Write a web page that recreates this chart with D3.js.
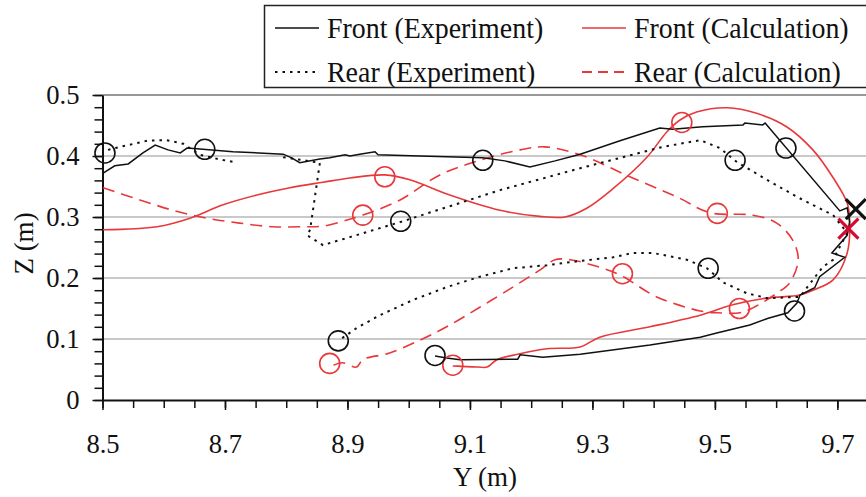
<!DOCTYPE html>
<html>
<head>
<meta charset="utf-8">
<script src="https://cdn.jsdelivr.net/npm/d3@7"></script>
<style>
  body { margin: 0; background: #fff; }
  text { font-family: "Liberation Serif", "Times New Roman", serif; fill: #111; }
</style>
</head>
<body>
<svg id="chart"></svg>
<script>
// chart.js

// Trajectories: [Y (m), Z (m)]
const frontExp = [
  [8.501, 0.372], [8.520, 0.384], [8.542, 0.387], [8.566, 0.405], [8.586, 0.418],
  [8.607, 0.410], [8.627, 0.405], [8.638, 0.413], [8.664, 0.411], [8.713, 0.407],
  [8.795, 0.403], [8.809, 0.397], [8.822, 0.389], [8.855, 0.395], [8.871, 0.397],
  [8.896, 0.402], [8.904, 0.400], [8.920, 0.403], [8.945, 0.407], [8.950, 0.402],
  [9.018, 0.400], [9.121, 0.397], [9.157, 0.392], [9.198, 0.382], [9.239, 0.392],
  [9.280, 0.403], [9.345, 0.425], [9.410, 0.446], [9.431, 0.444], [9.480, 0.448],
  [9.546, 0.451], [9.549, 0.454], [9.578, 0.451], [9.582, 0.454], [9.704, 0.310],
  [9.716, 0.315], [9.720, 0.292], [9.716, 0.270], [9.691, 0.241], [9.712, 0.234],
  [9.671, 0.202], [9.663, 0.184], [9.639, 0.172], [9.634, 0.159], [9.619, 0.143],
  [9.587, 0.134], [9.557, 0.123], [9.503, 0.110], [9.476, 0.103], [9.394, 0.090],
  [9.280, 0.075], [9.219, 0.070], [9.182, 0.074], [9.178, 0.067], [9.084, 0.066],
  [9.062, 0.069], [9.043, 0.072]
];

const rearExp = [
  [8.509, 0.410], [8.529, 0.415], [8.573, 0.425], [8.605, 0.426], [8.632, 0.420],
  [8.659, 0.402], [8.689, 0.395], [8.720, 0.389], null,
  [8.795, 0.398], [8.855, 0.389], [8.839, 0.279], [8.834, 0.270], [8.860, 0.254],
  [8.904, 0.267], [8.987, 0.292], [9.149, 0.344], [9.280, 0.380], [9.415, 0.415],
  [9.476, 0.426], [9.508, 0.413], [9.536, 0.390], [9.585, 0.361], [9.634, 0.333],
  [9.693, 0.303], [9.716, 0.274], [9.693, 0.230], [9.676, 0.218], [9.660, 0.197],
  [9.639, 0.169], [9.585, 0.167], [9.552, 0.175], [9.513, 0.193], [9.487, 0.216],
  [9.454, 0.230], [9.399, 0.241], [9.366, 0.241], [9.334, 0.234], [9.280, 0.228],
  [9.226, 0.221], [9.170, 0.216], [9.116, 0.202], [9.062, 0.185], [9.007, 0.164],
  [8.953, 0.139], [8.915, 0.118], [8.885, 0.097]
];

const frontCalc = [
  [8.501, 0.279], [8.589, 0.284], [8.643, 0.298], [8.697, 0.320], [8.752, 0.336],
  [8.806, 0.348], [8.860, 0.357], [8.904, 0.364], [8.961, 0.369], [9.002, 0.361],
  [9.067, 0.336], [9.149, 0.311], [9.214, 0.301], [9.255, 0.300], [9.290, 0.314],
  [9.333, 0.346], [9.389, 0.398], [9.421, 0.439], [9.443, 0.459], [9.470, 0.472],
  [9.520, 0.479], [9.568, 0.470], [9.617, 0.448], [9.660, 0.410], [9.692, 0.366],
  [9.716, 0.323], [9.720, 0.295], [9.716, 0.241], [9.693, 0.197], [9.660, 0.180],
  [9.639, 0.172], [9.585, 0.167], [9.529, 0.156], [9.476, 0.139], [9.394, 0.120],
  [9.312, 0.103], [9.280, 0.087], [9.226, 0.084], [9.178, 0.075], [9.144, 0.066],
  [9.128, 0.054], [9.113, 0.054], [9.072, 0.056]
];

const rearCalc = [
  [8.501, 0.348], [8.561, 0.328], [8.615, 0.311], [8.671, 0.298], [8.724, 0.290],
  [8.778, 0.284], [8.827, 0.284], [8.860, 0.285], [8.899, 0.295], [8.925, 0.303],
  [8.986, 0.328], [9.051, 0.369], [9.116, 0.393], [9.182, 0.410], [9.222, 0.415],
  [9.280, 0.402], [9.361, 0.366], [9.438, 0.333], [9.492, 0.307], [9.562, 0.303],
  [9.601, 0.290], [9.627, 0.262], [9.636, 0.230], [9.622, 0.192], [9.601, 0.175],
  [9.562, 0.151], [9.541, 0.143], [9.503, 0.143], [9.476, 0.146], [9.405, 0.169],
  [9.345, 0.205], [9.304, 0.220], [9.263, 0.230], [9.239, 0.230], [9.214, 0.213],
  [9.170, 0.185], [9.116, 0.152], [9.062, 0.120], [9.018, 0.098], [8.969, 0.077],
  [8.925, 0.066], [8.915, 0.054], [8.892, 0.061], [8.875, 0.056]
];

// Circle markers (equal time instants) and start crosses
const expMarkers = [
  [8.504, 0.405], [8.667, 0.411], [9.121, 0.393], [9.533, 0.393], [9.616, 0.413],
  [8.987, 0.293], [9.489, 0.216], [8.885, 0.097], [9.043, 0.073], [9.630, 0.146]
];
const calcMarkers = [
  [9.446, 0.455], [8.961, 0.366], [8.925, 0.303], [9.504, 0.306], [9.349, 0.207],
  [9.540, 0.150], [8.871, 0.060], [9.072, 0.057]
];
const expCross = [9.730, 0.313];
const calcCross = [9.718, 0.281];

const xTicks = [8.5, 8.7, 8.9, 9.1, 9.3, 9.5, 9.7];
const zTicks = [0, 0.1, 0.2, 0.3, 0.4, 0.5];
const gridValues = [0.1, 0.2, 0.3, 0.4];
const legendLabels = ["Front (Experiment)", "Front (Calculation)", "Rear (Experiment)", "Rear (Calculation)"];

const width = 866, height = 497;
const black = "#111", red = "#e8383b", crossRed = "#d40a2f";

const svg = d3.select("#chart").attr("width", width).attr("height", height);

const x = d3.scaleLinear().domain([8.5, 9.75]).range([102.5, 868]);
const y = d3.scaleLinear().domain([0, 0.5]).range([400, 95]);

// squeeze text a little horizontally, the original font is narrow
function condense(sel, f) {
  sel.each(function() {
    const w = this.getComputedTextLength();
    d3.select(this).attr("textLength", w * f).attr("lengthAdjust", "spacingAndGlyphs");
  });
}

// Grid lines
svg.append("g").selectAll("line")
  .data(gridValues)
  .join("line")
  .attr("x1", x(8.5)).attr("x2", width)
  .attr("y1", d => y(d)).attr("y2", d => y(d))
  .attr("stroke", "#c9c9c9").attr("stroke-width", 2);

// top line at 0.5
svg.append("line")
  .attr("x1", x(8.5)).attr("x2", width)
  .attr("y1", y(0.5)).attr("y2", y(0.5))
  .attr("stroke", "#333").attr("stroke-width", 1.2);

// Minor ticks
const xMinor = d3.range(8.5, 9.76, 0.05);
const zMinor = d3.range(0, 0.501, 0.02);

svg.append("g")
  .attr("transform", `translate(0,${y(0)})`)
  .call(d3.axisBottom(x).tickValues(xMinor).tickSize(8).tickSizeOuter(0).tickFormat(""))
  .call(g => g.select(".domain").remove())
  .selectAll("line").attr("stroke", black).attr("stroke-width", 1.5);

svg.append("g")
  .attr("transform", `translate(${x(8.5)},0)`)
  .call(d3.axisLeft(y).tickValues(zMinor).tickSize(8).tickSizeOuter(0).tickFormat(""))
  .call(g => g.select(".domain").remove())
  .selectAll("line").attr("stroke", black).attr("stroke-width", 1.5);

// Major axes
const xAxis = svg.append("g")
  .attr("transform", `translate(0,${y(0)})`)
  .call(d3.axisBottom(x).tickValues(xTicks).tickSize(10).tickSizeOuter(0).tickPadding(23)
    .tickFormat(d3.format(".1f")));
xAxis.select(".domain").attr("stroke", black).attr("stroke-width", 2);
xAxis.selectAll(".tick line").attr("stroke", black).attr("stroke-width", 1.5);
xAxis.selectAll(".tick text").style("font-size", "28px").attr("fill", "#111").call(condense, 0.95);

const yAxis = svg.append("g")
  .attr("transform", `translate(${x(8.5)},0)`)
  .call(d3.axisLeft(y).tickValues(zTicks).tickSize(10).tickSizeOuter(0).tickPadding(13)
    .tickFormat(d => d === 0 ? "0" : d3.format(".1f")(d)));
yAxis.select(".domain").attr("stroke", black).attr("stroke-width", 2);
yAxis.selectAll(".tick line").attr("stroke", black).attr("stroke-width", 1.5);
yAxis.selectAll(".tick text").style("font-size", "28px").attr("fill", "#111").call(condense, 0.95);

// Axis titles
svg.append("text")
  .attr("x", 485).attr("y", 486)
  .attr("text-anchor", "middle")
  .style("font-size", "27px")
  .text("Y (m)");

svg.append("text")
  .attr("transform", `translate(33,${(y(0) + y(0.5)) / 2 - 4}) rotate(-90)`)
  .attr("text-anchor", "middle")
  .style("font-size", "27px")
  .text("Z (m)");

// Lines
const lineExp = d3.line()
  .defined(d => d !== null)
  .x(d => x(d[0])).y(d => y(d[1]));
const lineCalc = d3.line()
  .curve(d3.curveCatmullRom.alpha(0.5))
  .x(d => x(d[0])).y(d => y(d[1]));

const plot = svg.append("g");

plot.append("path").datum(rearCalc)
  .attr("d", lineCalc).attr("fill", "none")
  .attr("stroke", red).attr("stroke-width", 1.6).attr("stroke-dasharray", "12,7");

plot.append("path").datum(frontCalc)
  .attr("d", lineCalc).attr("fill", "none")
  .attr("stroke", red).attr("stroke-width", 1.6);

plot.append("path").datum(rearExp)
  .attr("d", lineExp).attr("fill", "none")
  .attr("stroke", black).attr("stroke-width", 2).attr("stroke-dasharray", "2.5,5");

plot.append("path").datum(frontExp)
  .attr("d", lineExp).attr("fill", "none")
  .attr("stroke", black).attr("stroke-width", 1.5);

// Circle markers
plot.append("g").selectAll("circle")
  .data(calcMarkers)
  .join("circle")
  .attr("cx", d => x(d[0])).attr("cy", d => y(d[1])).attr("r", 10)
  .attr("fill", "none").attr("stroke", red).attr("stroke-width", 1.6);

plot.append("g").selectAll("circle")
  .data(expMarkers)
  .join("circle")
  .attr("cx", d => x(d[0])).attr("cy", d => y(d[1])).attr("r", 10)
  .attr("fill", "none").attr("stroke", black).attr("stroke-width", 1.6);

// Cross markers
function drawCross(p, color) {
  const cx = x(p[0]), cy = y(p[1]), s = 10;
  plot.append("path")
    .attr("d", `M${cx - s},${cy - s}L${cx + s},${cy + s}M${cx - s},${cy + s}L${cx + s},${cy - s}`)
    .attr("stroke", color).attr("stroke-width", 3.2).attr("fill", "none");
}
drawCross(expCross, black);
drawCross(calcCross, crossRed);

// Legend
const legend = svg.append("g");
legend.append("rect")
  .attr("x", 264.5).attr("y", 5.5).attr("width", 620).attr("height", 82)
  .attr("fill", "#fff").attr("stroke", "#222").attr("stroke-width", 1.5);

const legendItems = [
  { label: legendLabels[0], color: black, dash: null, width: 1.5, lx: 275, ly: 28 },
  { label: legendLabels[1], color: red, dash: null, width: 1.6, lx: 582, ly: 28 },
  { label: legendLabels[2], color: black, dash: "2.5,5", width: 2, lx: 275, ly: 72 },
  { label: legendLabels[3], color: red, dash: "10,6", width: 2, lx: 582, ly: 72 }
];

legendItems.forEach(d => {
  legend.append("line")
    .attr("x1", d.lx).attr("x2", d.lx + 44)
    .attr("y1", d.ly).attr("y2", d.ly)
    .attr("stroke", d.color).attr("stroke-width", d.width)
    .attr("stroke-dasharray", d.dash);
  legend.append("text")
    .attr("x", d.lx + 52).attr("y", d.ly + 10)
    .style("font-size", "30px")
    .text(d.label)
    .call(condense, 0.93);
});
</script>
</body>
</html>
